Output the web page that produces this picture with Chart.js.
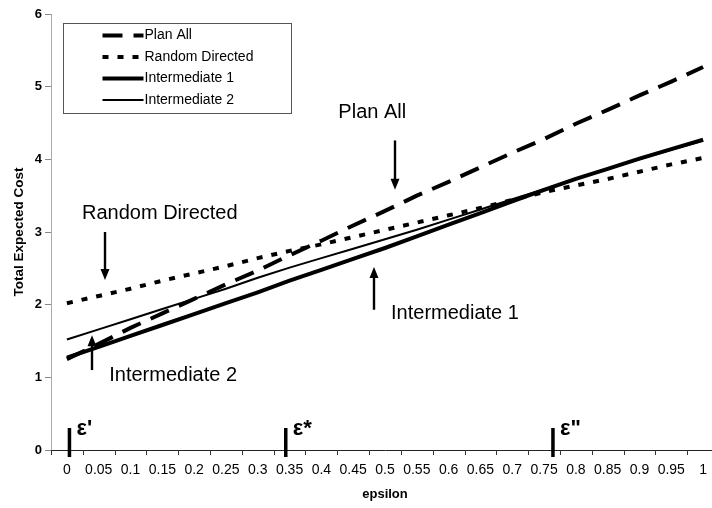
<!DOCTYPE html>
<html>
<head>
<meta charset="utf-8">
<script src="https://cdn.jsdelivr.net/npm/chart.js@4"></script>
<style>
  html, body { margin: 0; padding: 0; overflow: hidden; background: #fff; }
  #wrap { position: relative; width: 720px; height: 508px; }
</style>
</head>
<body>
<div id="wrap"><canvas id="c" width="720" height="508"></canvas></div>
<script>
// ---- data ----
const epsilonValues = [0, 0.05, 0.1, 0.15, 0.2, 0.25, 0.3, 0.35, 0.4, 0.45, 0.5,
                       0.55, 0.6, 0.65, 0.7, 0.75, 0.8, 0.85, 0.9, 0.95, 1];
const planAll        = [1.25, 1.46, 1.68, 1.88, 2.08, 2.28, 2.47, 2.68, 2.88, 3.09, 3.29,
                        3.50, 3.69, 3.89, 4.09, 4.28, 4.49, 4.68, 4.88, 5.07, 5.27];
const randomDirected = [2.02, 2.12, 2.22, 2.33, 2.43, 2.53, 2.64, 2.74, 2.83, 2.93, 3.03,
                        3.13, 3.23, 3.33, 3.44, 3.55, 3.64, 3.73, 3.83, 3.93, 4.02];
const intermediate1  = [1.27, 1.42, 1.57, 1.72, 1.87, 2.02, 2.17, 2.33, 2.48, 2.63, 2.78,
                        2.94, 3.10, 3.26, 3.42, 3.58, 3.73, 3.87, 4.01, 4.14, 4.27];
const intermediate2  = [1.52, 1.66, 1.80, 1.94, 2.08, 2.22, 2.37, 2.51, 2.64, 2.77, 2.90,
                        3.03, 3.17, 3.31, 3.45, 3.59, 3.73, 3.87, 4.00, 4.13, 4.26];
const costTicks = [0, 1, 2, 3, 4, 5, 6];
const seriesNames = ['Plan All', 'Random Directed', 'Intermediate 1', 'Intermediate 2'];

// threshold markers on the epsilon axis
const epsilonMarks = [
  { value: 0.004, label: "\u03B5'" },
  { value: 0.344, label: '\u03B5*' },
  { value: 0.764, label: '\u03B5"' }
];

// text callouts with arrows (data units: epsilon, cost)
const callouts = [
  { text: 'Plan All',        x: 0.48,  y: 4.65, arrowX: 0.516, from: 4.26, to: 3.58 },
  { text: 'Random Directed', x: 0.146, y: 3.25, arrowX: 0.060, from: 3.00, to: 2.34 },
  { text: 'Intermediate 1',  x: 0.61,  y: 1.88, arrowX: 0.483, from: 1.93, to: 2.52 },
  { text: 'Intermediate 2',  x: 0.167, y: 1.03, arrowX: 0.039, from: 1.10, to: 1.58 }
];

const FONT = 'Arial, "Liberation Sans", Helvetica, sans-serif';
const step = epsilonValues[1] - epsilonValues[0];
const xMin = epsilonValues[0] - step / 2;
const xMax = epsilonValues[epsilonValues.length - 1] + step / 2;

const toPoints = arr => epsilonValues.map((e, i) => ({ x: e, y: arr[i] }));

// tick marks sit between the category labels
const betweenTicks = {
  id: 'betweenTicks',
  afterDraw(chart) {
    const { ctx } = chart;
    const xs = chart.scales.x;
    const y0 = xs.top;
    ctx.save();
    ctx.strokeStyle = '#333';
    ctx.lineWidth = 1;
    for (let i = 0; i <= epsilonValues.length; i++) {
      const v = xMin + i * step;
      const px = Math.round(xs.getPixelForValue(v)) + 0.5;
      ctx.beginPath();
      ctx.moveTo(px, y0);
      ctx.lineTo(px, y0 + 5);
      ctx.stroke();
    }
    ctx.restore();
  }
};

// boxed legend inside the plot area
const boxedLegend = {
  id: 'boxedLegend',
  afterDraw(chart) {
    const { ctx, chartArea } = chart;
    const left = chartArea.left + 12.5, top = chartArea.top + 9.5;
    const w = 228, h = 90;
    ctx.save();
    ctx.fillStyle = '#fff';
    ctx.fillRect(left, top, w, h);
    ctx.strokeStyle = '#555';
    ctx.lineWidth = 1;
    ctx.strokeRect(left, top, w, h);
    ctx.font = '14px ' + FONT;
    ctx.textBaseline = 'middle';
    ctx.textAlign = 'left';
    chart.data.datasets.forEach((ds, i) => {
      const y = top + 12 + i * 21.5;
      ctx.beginPath();
      ctx.setLineDash(ds.borderDash || []);
      ctx.lineWidth = ds.borderWidth;
      ctx.strokeStyle = ds.borderColor;
      ctx.lineCap = 'butt';
      ctx.moveTo(left + 39, y);
      ctx.lineTo(left + 80, y);
      ctx.stroke();
      ctx.setLineDash([]);
      ctx.fillStyle = '#000';
      ctx.fillText(ds.label, left + 81, y);
    });
    ctx.restore();
  }
};

function drawArrow(ctx, x, y1, y2) {
  const dir = Math.sign(y2 - y1);
  const headLen = 11, headW = 4.5;
  ctx.beginPath();
  ctx.lineWidth = 2.4;
  ctx.moveTo(x, y1);
  ctx.lineTo(x, y2 - dir * headLen + dir);
  ctx.stroke();
  ctx.beginPath();
  ctx.moveTo(x, y2);
  ctx.lineTo(x - headW, y2 - dir * headLen);
  ctx.lineTo(x + headW, y2 - dir * headLen);
  ctx.closePath();
  ctx.fill();
}

// callout labels, arrows and epsilon markers
const annotations = {
  id: 'annotations',
  afterDraw(chart) {
    const { ctx } = chart;
    const xs = chart.scales.x, ys = chart.scales.y;
    ctx.save();
    ctx.fillStyle = '#000';
    ctx.strokeStyle = '#000';
    ctx.font = '20px ' + FONT;
    ctx.textAlign = 'center';
    ctx.textBaseline = 'middle';
    callouts.forEach(c => {
      ctx.fillText(c.text, xs.getPixelForValue(c.x), ys.getPixelForValue(c.y));
      drawArrow(ctx, Math.round(xs.getPixelForValue(c.arrowX)),
                ys.getPixelForValue(c.from), ys.getPixelForValue(c.to));
    });
    const axisY = ys.getPixelForValue(0);
    ctx.font = 'bold 22px ' + FONT;
    ctx.textAlign = 'left';
    ctx.textBaseline = 'alphabetic';
    epsilonMarks.forEach(m => {
      const px = xs.getPixelForValue(m.value);
      ctx.fillRect(px - 1.75, axisY - 22, 3.5, 29);
      ctx.fillText(m.label, px + 7, axisY - 15);
    });
    ctx.restore();
  }
};

const styles = [
  { borderWidth: 4, borderDash: [20, 11] },
  { borderWidth: 4, borderDash: [6, 9] },
  { borderWidth: 4, borderDash: [] },
  { borderWidth: 2, borderDash: [] }
];
const seriesData = [planAll, randomDirected, intermediate1, intermediate2];

new Chart(document.getElementById('c'), {
  type: 'line',
  data: {
    datasets: seriesNames.map((name, i) => ({
      label: name,
      data: toPoints(seriesData[i]),
      borderColor: '#000',
      backgroundColor: '#000',
      borderWidth: styles[i].borderWidth,
      borderDash: styles[i].borderDash,
      borderCapStyle: 'butt',
      pointRadius: 0,
      tension: 0,
      fill: false
    }))
  },
  options: {
    responsive: false,
    animation: false,
    devicePixelRatio: 1,
    layout: { padding: { top: 14, right: 1, left: 0, bottom: 0 } },
    plugins: { legend: { display: false }, tooltip: { enabled: false } },
    scales: {
      x: {
        type: 'linear',
        min: xMin,
        max: xMax,
        afterBuildTicks(axis) { axis.ticks = epsilonValues.map(v => ({ value: v })); },
        afterFit(axis) { axis.height = 58; },
        grid: { drawOnChartArea: false, drawTicks: false },
        border: { color: '#222', width: 1 },
        ticks: {
          padding: 12,
          autoSkip: false,
          maxRotation: 0,
          color: '#000',
          font: { family: FONT, size: 14 },
          callback: v => String(+v.toFixed(2))
        },
        title: {
          display: true,
          text: 'epsilon',
          color: '#000',
          font: { family: FONT, size: 13, weight: 'bold' },
          padding: { top: 0, bottom: 6 }
        }
      },
      y: {
        min: 0,
        max: 6,
        afterBuildTicks(axis) { axis.ticks = costTicks.map(v => ({ value: v })); },
        afterFit(axis) { axis.width = 51; },
        grid: { drawOnChartArea: false, tickLength: 6, color: '#888' },
        border: { color: '#aaa', dash: [2, 2] },
        ticks: {
          padding: 3,
          color: '#000',
          font: { family: FONT, size: 13, weight: 'bold' }
        },
        title: {
          display: true,
          text: 'Total Expected Cost',
          color: '#000',
          font: { family: FONT, size: 13.5, weight: 'bold' },
          padding: { top: 11, bottom: 0 }
        }
      }
    }
  },
  plugins: [betweenTicks, boxedLegend, annotations]
});
</script>
</body>
</html>
